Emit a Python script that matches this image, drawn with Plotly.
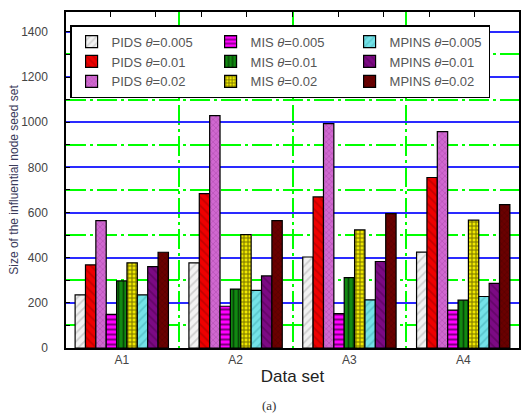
import plotly.graph_objects as go

# Data sets on the x axis
datasets = ["A1", "A2", "A3", "A4"]

# Seed-set sizes per method and theta
pids_0005 = [235, 377, 403, 425]
pids_001 = [368, 684, 669, 755]
pids_002 = [564, 1029, 994, 958]
mis_0005 = [149, 185, 152, 168]
mis_001 = [297, 261, 312, 212]
mis_002 = [377, 502, 523, 566]
mpins_0005 = [235, 255, 213, 228]
mpins_001 = [360, 319, 383, 286]
mpins_002 = [424, 564, 595, 635]

series_names = [
    "PIDS <i>θ</i>=0.005", "PIDS <i>θ</i>=0.01", "PIDS <i>θ</i>=0.02",
    "MIS <i>θ</i>=0.005", "MIS <i>θ</i>=0.01", "MIS <i>θ</i>=0.02",
    "MPINS <i>θ</i>=0.005", "MPINS <i>θ</i>=0.01", "MPINS <i>θ</i>=0.02",
]
series_values = [pids_0005, pids_001, pids_002,
                 mis_0005, mis_001, mis_002,
                 mpins_0005, mpins_001, mpins_002]

# fill style per series: (background, pattern colour, shape, size, solidity)
styles = [
    ("#f2f2f2", "#a8a8a8", "/", 6, 0.3),
    ("#ee0000", "#990000", "\\", 6, 0.3),
    ("#d068d0", "#9a3a9a", "x", 4, 0.3),
    ("#ff00ff", "#000000", "-", 5, 0.4),
    ("#118a11", "#000000", "|", 5, 0.35),
    ("#f0e800", "#000000", "+", 4, 0.45),
    ("#74e2e8", "#40a8b0", "/", 6, 0.3),
    ("#7c0a84", "#4e004e", "\\", 6, 0.3),
    ("#6a0000", "#420000", "x", 4, 0.3),
]

Y_MAX = 1488
GREEN = "#00ff00"
BLUE = "#2a2aff"
DASHDOT = "20px,4px,3px,4px"

fig = go.Figure()
for i, (name, vals, st) in enumerate(zip(series_names, series_values, styles)):
    bg, fg, shape, size, sol = st
    method_idx, theta_idx = divmod(i, 3)
    fig.add_trace(go.Bar(
        x=datasets, y=vals, name=name,
        legendrank=theta_idx * 3 + method_idx + 1,
        marker=dict(
            color=bg,
            line=dict(color="#000000", width=1.2),
            pattern=dict(shape=shape, fgcolor=fg, bgcolor=bg, size=size,
                         solidity=sol),
        ),
    ))

font_sans = "Liberation Sans, Arial, sans-serif"

fig.update_layout(
    width=522, height=417,
    margin=dict(l=66, r=1, t=12, b=69),
    paper_bgcolor="white", plot_bgcolor="white",
    barmode="group", bargap=0.18, bargroupgap=0,
    font=dict(family=font_sans, color="#444444"),
    showlegend=True,
    legend=dict(
        orientation="h", x=0.009, y=0.961, xanchor="left", yanchor="top",
        bgcolor="white", bordercolor="#000000", borderwidth=1.5,
        font=dict(size=13, color="#555555", family=font_sans),
        entrywidth=94, entrywidthmode="pixels",
        tracegroupgap=0, traceorder="normal",
    ),
    xaxis=dict(
        type="category", range=[-0.49, 3.49],
        tickson="boundaries", ticks="", showgrid=True,
        gridcolor=GREEN, griddash=DASHDOT, gridwidth=1.6,
        showline=True, linecolor="#000000", linewidth=1.5, mirror=True,
        tickfont=dict(size=12, color="#444444"),
        title=dict(text="Data set", font=dict(size=17, color="#222222"),
                   standoff=4),
    ),
    # decorative tick marks along the top frame
    xaxis2=dict(
        overlaying="x", side="top", range=[-0.49, 3.49],
        tick0=-0.1, dtick=0.4, ticks="inside", ticklen=5,
        tickcolor="#000000", showticklabels=False, showgrid=False,
        zeroline=False, showline=False,
    ),
    # main y axis: green dash-dot grid every 100
    yaxis=dict(
        range=[0, Y_MAX],
        showgrid=True, gridcolor=GREEN, griddash=DASHDOT, gridwidth=1.8,
        ticks="inside", ticklen=4, tickcolor="#000000",
        tickvals=list(range(0, 1500, 100)),
        ticktext=[str(v) if v % 200 == 0 else "" for v in range(0, 1500, 100)],
        showline=True, linecolor="#000000", linewidth=1.5, mirror=True,
        zeroline=False,
        ticklabelstandoff=14,
        tickfont=dict(size=12, color="#444444"),
        title=dict(text="Size of the influential node seed set",
                   font=dict(size=12, color="#3a3a5a"), standoff=0),
    ),
    # blue solid grid every 200 drawn over the green one
    yaxis2=dict(
        overlaying="y", range=[0, Y_MAX], tick0=0, dtick=200,
        showgrid=True, gridcolor=BLUE, gridwidth=1.6,
        showticklabels=False, ticks="", zeroline=False, showline=False,
        side="right",
    ),
    annotations=[dict(
        text="(a)", xref="paper", yref="paper", x=0.448, y=-0.17,
        xanchor="center", yanchor="middle",
        showarrow=False, font=dict(family="Liberation Serif, serif",
                                   size=13, color="#333333"),
    )],
)

# empty trace so the secondary axes are rendered
fig.add_trace(go.Scatter(x=[None], y=[None], xaxis="x2", yaxis="y2",
                         showlegend=False, hoverinfo="skip"))

fig.write_html("out.html")
